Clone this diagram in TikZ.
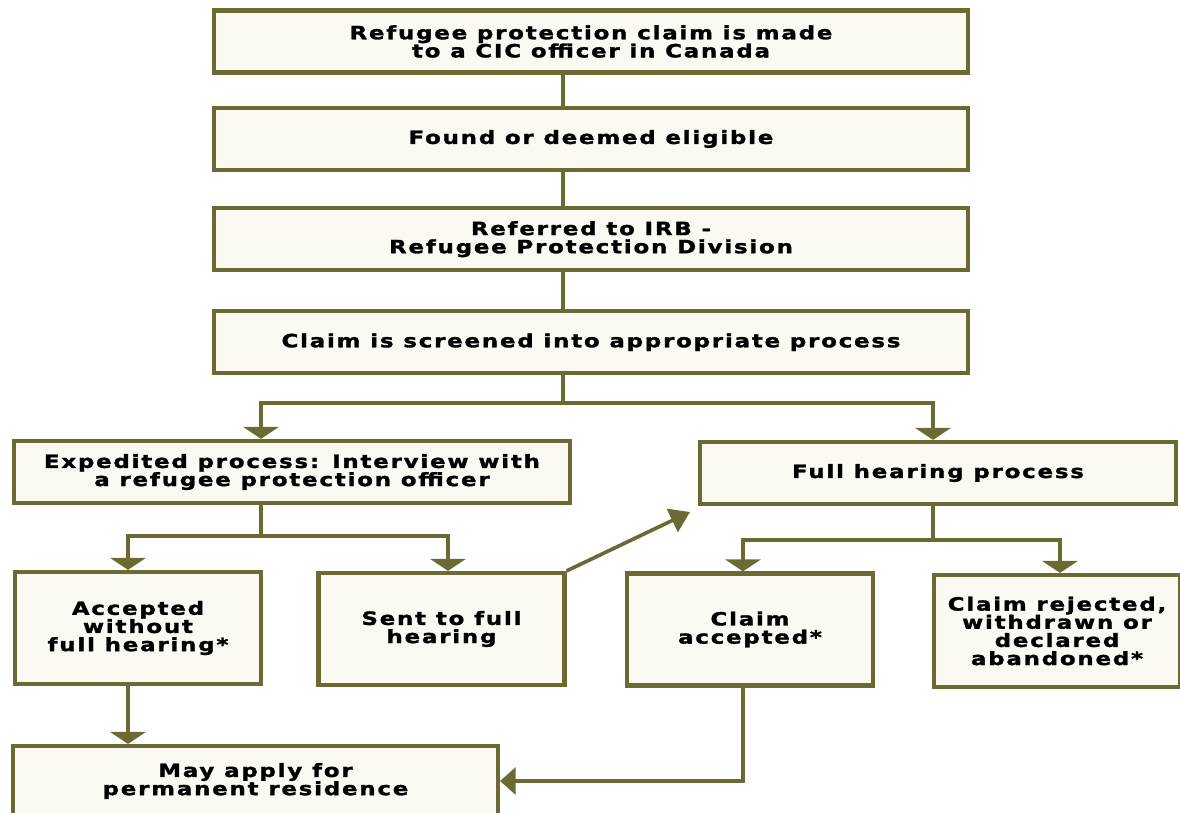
\documentclass[tikz,border=0pt]{standalone}
\usepackage{fontspec}
\usepackage{xcolor}
\usepackage{tikz}
\usetikzlibrary{positioning,arrows.meta}

\newfontfamily\claimfont{DejaVu Sans Bold}[FakeStretch=1.25,LetterSpace=10,FakeBold=1.6]
\definecolor{claimline}{HTML}{6B6A32}
\definecolor{claimfill}{HTML}{FCF8F2}

\begin{document}
\begin{tikzpicture}[
		x=0.025cm, y=-0.025cm,
		stepbox/.style={rectangle, draw=claimline, fill=claimfill, line width=3pt, align=center,
			font=\claimfont\fontsize{13}{12.9}\selectfont, inner sep=0pt},
		wide/.style={stepbox, minimum width=18.85cm, minimum height=1.55cm},
		small/.style={stepbox, minimum width=6.15cm, minimum height=2.8cm},
		link/.style={draw=claimline, line width=2.6pt},
		tip/.style={link, -{Triangle[width=25pt,length=8.5pt]}},
		node distance=0.85cm,
	]
		\useasboundingbox (0,0) rectangle (1180,812);

		% column
		\node[wide] (made)     at (591,41.5)          {Refugee protection claim is made\\to a CIC officer in Canada};
		\node[wide] (eligible) [below=0.78cm of made]     {Found or deemed eligible};
		\node[wide] (referred) [below=0.85cm of eligible] {Referred to IRB -\\Refugee Protection Division};
		\node[wide] (screened) [below=0.92cm of referred] {Claim is screened into appropriate process};

		% processes
		\node[stepbox, minimum width=13.9cm, minimum height=1.55cm] (expedited) at (292,472) {Expedited process: Interview with\\a refugee protection officer};
		\node[stepbox, minimum width=11.9cm, minimum height=1.55cm] (hearing) at (938,473) {Full hearing process};

		% outcomes
		\node[small] (accepted) at (138,628)    {Accepted\\without\\full hearing*};
		\node[small] (sent)     at (441.5,629)  {Sent to full\\hearing};
		\node[small] (claimok)  at (750,629.5)  {Claim\\accepted*};
		\node[small] (rejected) at (1057,631)   {Claim rejected,\\withdrawn or\\declared\\abandoned*};
		\node[stepbox, minimum width=12.12cm, minimum height=1.75cm] (residence) at (255.5,781) {May apply for\\permanent residence};

		% lines
		\coordinate (spine) at (563,0);
		\draw[link] (made.south -| spine) -- (eligible.north -| spine);
		\draw[link] (eligible.south -| spine) -- (referred.north -| spine);
		\draw[link] (referred.south -| spine) -- (screened.north -| spine);

		\coordinate (split) at (563,403);
		\draw[link] (screened.south -| split) -- (split);
		\draw[tip] (split) -| (expedited.north -| 261,0);
		\draw[tip] (split) -| (hearing.north -| 933,0);

		\coordinate (exsplit) at (261,536);
		\draw[link] (expedited.south -| exsplit) -- (exsplit);
		\draw[tip] (exsplit) -| (accepted.north -| 128,0);
		\draw[tip] (exsplit) -| (sent.north -| 448,0);

		\coordinate (hesplit) at (933,540);
		\draw[link] (hearing.south -| hesplit) -- (hesplit);
		\draw[tip] (hesplit) -| (claimok.north -| 743,0);
		\draw[tip] (hesplit) -| (rejected.north -| 1060,0);

		\coordinate (upper) at (690,512);
		\draw[link, -{Triangle[width=18pt,length=14pt]}] (sent.north east) -- (upper);

		\draw[tip] (accepted.south -| 128,0) -- (residence.north -| 128,0);
		\draw[link, -{Triangle[width=19pt,length=11pt]}] (claimok.south -| 743,0) |- (residence.east);

	\end{tikzpicture}
\end{document}
